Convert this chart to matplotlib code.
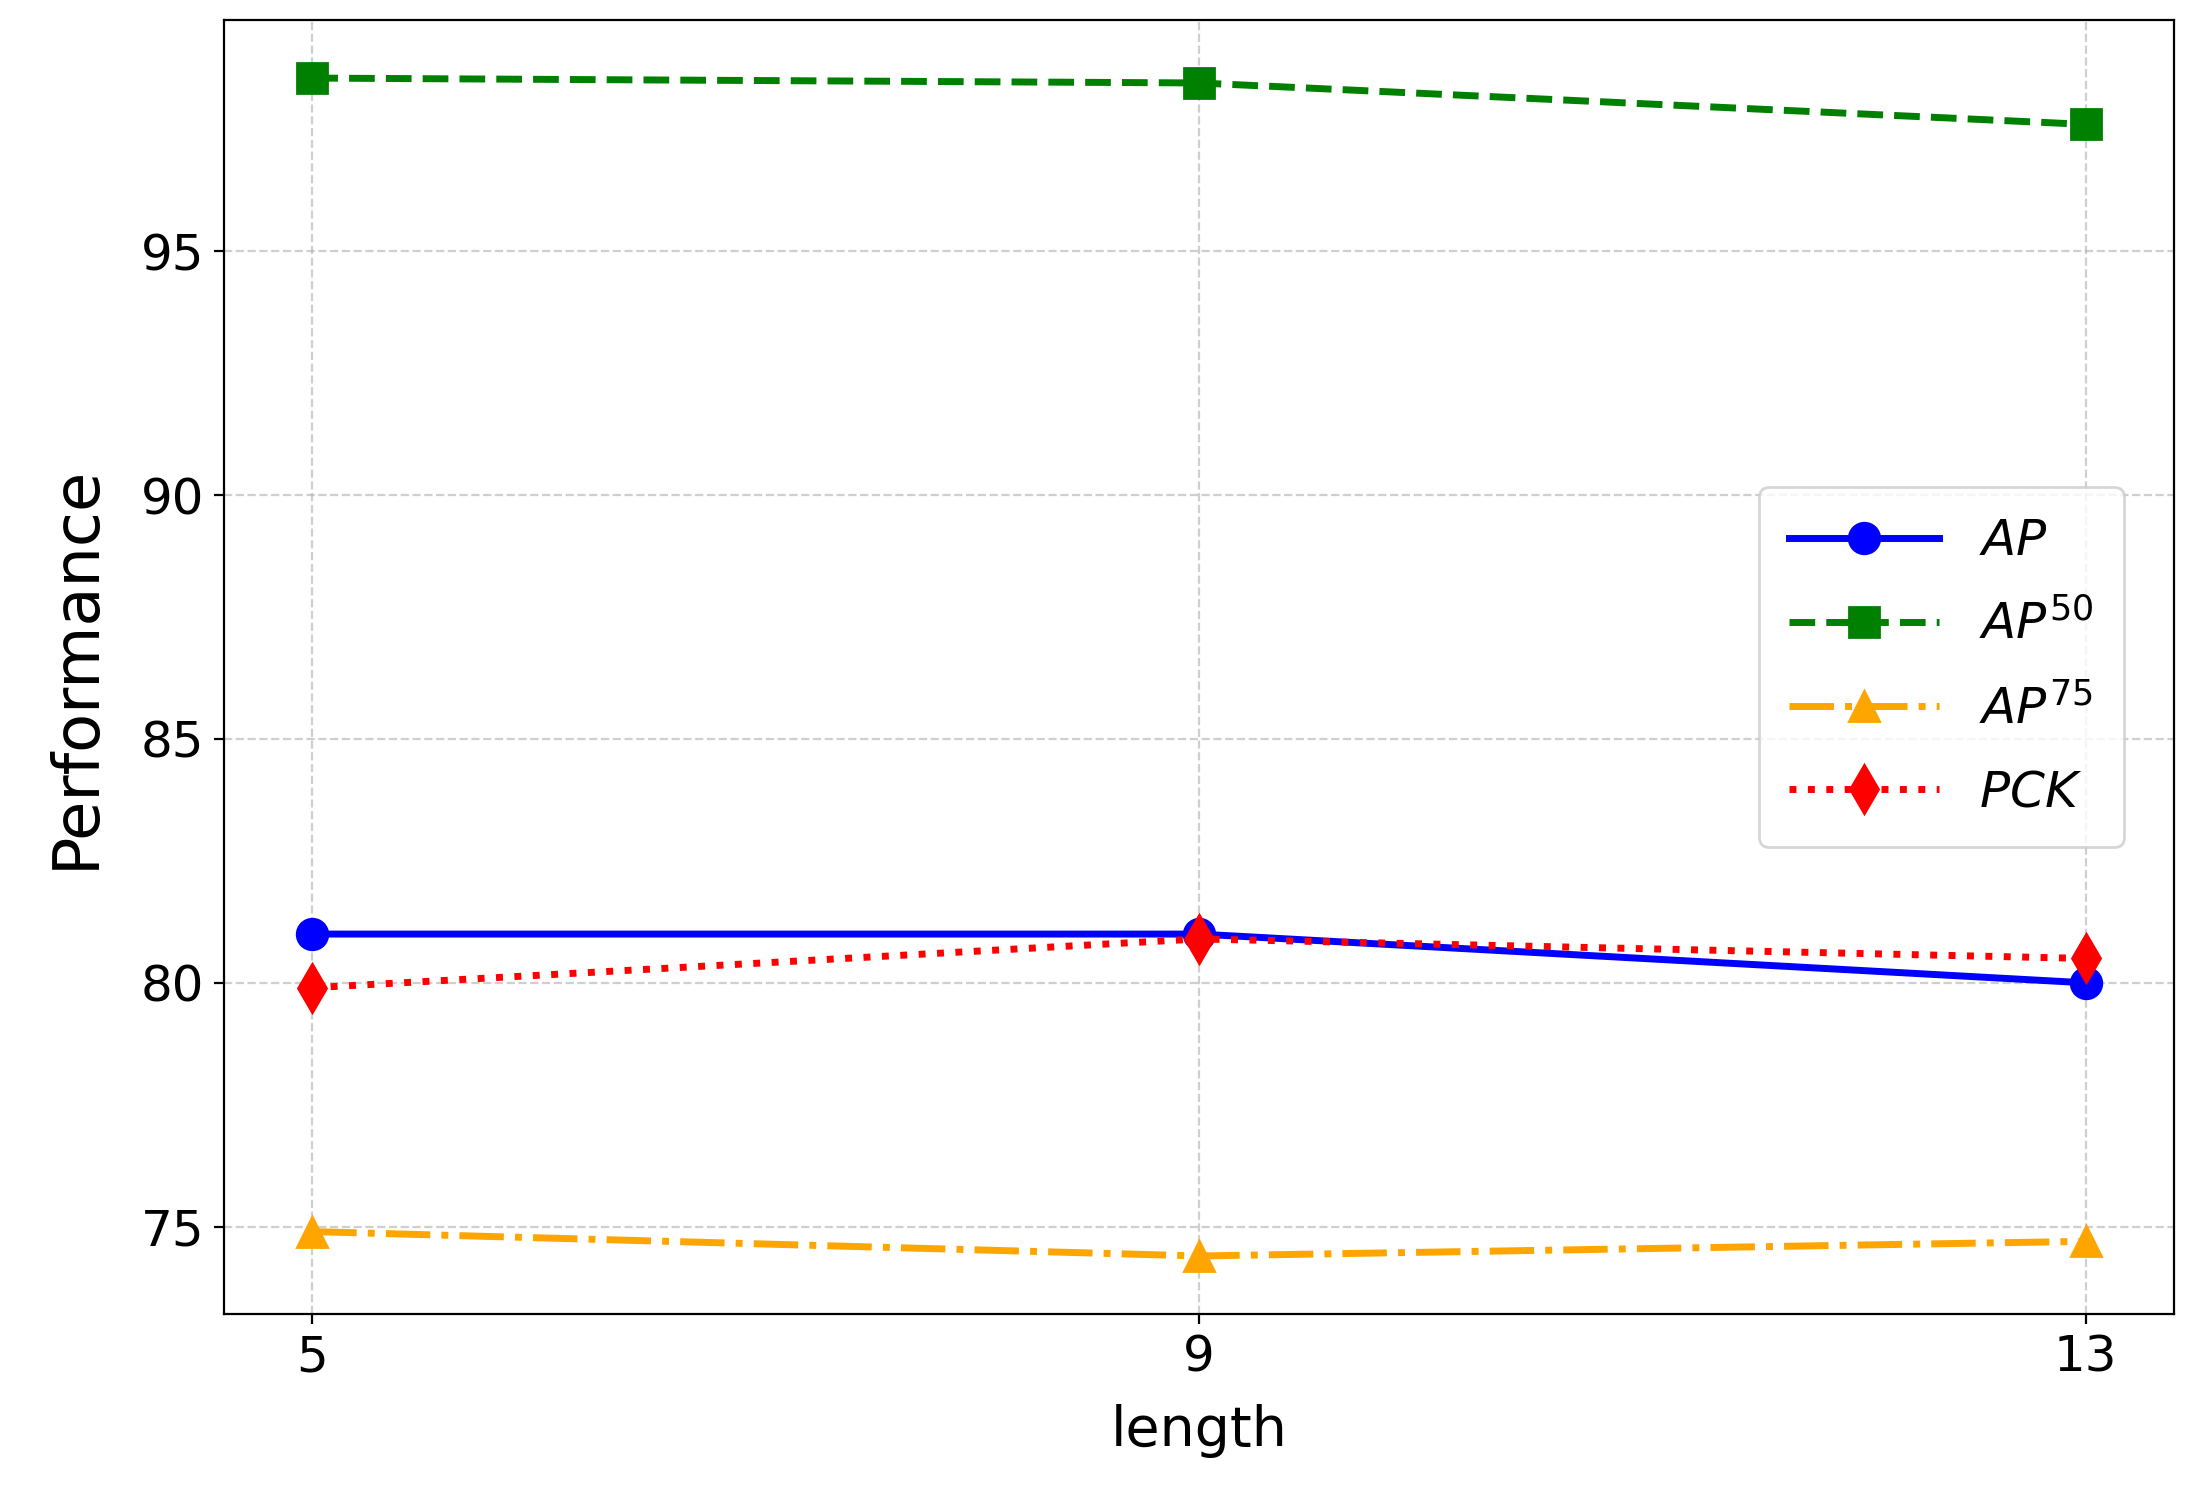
import matplotlib
matplotlib.use("Agg")
import matplotlib.pyplot as plt

lengths = [5, 9, 13]
ap = [81.0, 81.0, 80.0]
ap50 = [98.55, 98.45, 97.6]
ap75 = [74.9, 74.4, 74.7]
pck = [79.9, 80.9, 80.5]

fig, ax = plt.subplots(figsize=(10.96, 7.52), dpi=200)
ax.plot(lengths, ap, color='blue', linestyle='-', marker='o', markersize=11, linewidth=2.5, label=r'$AP$')
ax.plot(lengths, ap50, color='green', linestyle='--', marker='s', markersize=11, linewidth=2.5, label=r'$AP^{50}$')
ax.plot(lengths, ap75, color='orange', linestyle='-.', marker='^', markersize=11, linewidth=2.5, label=r'$AP^{75}$')
ax.plot(lengths, pck, color='red', linestyle=':', marker='d', markersize=12, linewidth=2.5, label=r'$PCK$')
ax.set_xticks(lengths)
ax.set_yticks([75, 80, 85, 90, 95])
ax.set_ylim(73.2, 99.75)
ax.tick_params(labelsize=18)
ax.set_xlabel('length', fontsize=20, labelpad=8)
ax.set_ylabel('Performance', fontsize=23, labelpad=12)
ax.grid(True, linestyle='--', alpha=0.6)
ax.legend(fontsize=18, loc='center right', bbox_to_anchor=(0.987, 0.5), borderpad=0.6, labelspacing=0.7, handlelength=3)
fig.subplots_adjust(left=0.102, right=0.992, top=0.987, bottom=0.126)
fig.savefig('out.png')
